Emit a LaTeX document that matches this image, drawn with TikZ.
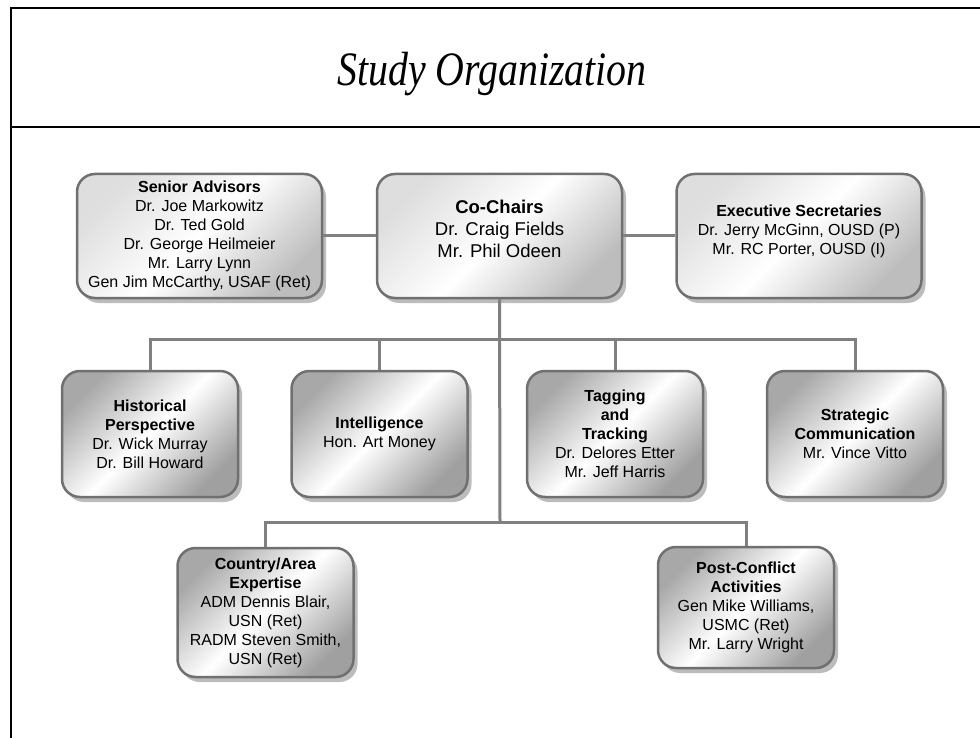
\documentclass[tikz,border=0pt]{standalone}
\usepackage{fontspec}
\usepackage{graphicx}
\setmainfont{Liberation Sans}
\newfontfamily\titlefont{Liberation Serif}
\usetikzlibrary{positioning,shadows}
\definecolor{orgedge}{RGB}{112,112,112}
\definecolor{orglink}{RGB}{128,128,128}
\definecolor{orgshadow}{RGB}{122,122,122}
\definecolor{orglight}{RGB}{222,222,222}
\definecolor{orgdark}{RGB}{168,168,168}

\begin{document}
\begin{tikzpicture}[
        x=1pt, y=-1pt,
        frame/.style={draw=black, line width=2pt},
        link/.style={draw=orglink, line width=3pt},
        orgbox/.style={rectangle, rounded corners=18pt, draw=orgedge, line width=2.5pt,
          align=center, font=\fontsize{16}{19}\selectfont,
          drop shadow={shadow xshift=4pt, shadow yshift=-5pt, fill=orgshadow}},
        leadbox/.style={orgbox, minimum width=245pt, minimum height=124pt,
          top color=orglight, bottom color=orglight!85!black, middle color=white, shading angle=45},
        teambox/.style={orgbox, minimum width=176pt, minimum height=126pt,
          top color=orgdark, bottom color=orgdark!95!black, middle color=white, shading angle=45}
      ]
      \useasboundingbox (0,0) rectangle (980,738);
      % frame and heading
      \draw[frame] (11,738) -- (11,8) -- (980,8);
      \draw[frame] (11,127) -- (980,127);
      \node[anchor=base] (title) at (492,86)
        {\titlefont\itshape\fontsize{48}{56}\selectfont\scalebox{0.83}[1]{Study Organization}};

      % leadership row
      \node[leadbox, font=\fontsize{18.5}{22}\selectfont] (chairs) at (499.5,236)
        {\textbf{Co-Chairs}\\Dr. Craig Fields\\Mr. Phil Odeen\\[-8pt]};
      \node[leadbox] (advisors) at (199.5,236)
        {\textbf{Senior Advisors}\\Dr. Joe Markowitz\\Dr. Ted Gold\\Dr. George Heilmeier\\
         Mr. Larry Lynn\\Gen Jim McCarthy, USAF (Ret)};
      \node[leadbox] (secretaries) at (799,236)
        {\textbf{Executive Secretaries}\\Dr. Jerry McGinn, OUSD (P)\\Mr. RC Porter, OUSD (I)\\[-7pt]};

      % panel rows
      \node[teambox] (history) at (150,434)
        {\textbf{Historical}\\\textbf{Perspective}\\Dr. Wick Murray\\Dr. Bill Howard};
      \node[teambox] (intel) at (379.5,434)
        {\textbf{Intelligence}\\Hon. Art Money};
      \node[teambox] (tagging) at (615,434)
        {\textbf{Tagging}\\\textbf{and}\\\textbf{Tracking}\\Dr. Delores Etter\\Mr. Jeff Harris};
      \node[teambox] (stratcom) at (855,434)
        {\textbf{Strategic}\\\textbf{Communication}\\Mr. Vince Vitto};
      \node[teambox, minimum height=129pt] (country) at (265.5,612.5)
        {\textbf{Country/Area}\\\textbf{Expertise}\\ADM Dennis Blair,\\USN (Ret)\\
         RADM Steven Smith,\\USN (Ret)};
      \node[teambox, minimum height=121pt] (postwar) at (746,607.5)
        {\textbf{Post-Conflict}\\\textbf{Activities}\\Gen Mike Williams,\\USMC (Ret)\\
         Mr. Larry Wright};

      % connectors
      \coordinate (upperbus) at (500,339);
      \coordinate (lowerbus) at (500,522);
      \draw[link] (advisors.east) -- (chairs.west);
      \draw[link] (chairs.east) -- (secretaries.west);
      \draw[link] (chairs.south) -- (lowerbus);
      \draw[link] (history.north) |- (upperbus) -| (stratcom.north);
      \draw[link] (intel.north) -- (intel.north |- upperbus);
      \draw[link] (tagging.north) -- (tagging.north |- upperbus);
      \draw[link] (country.north) |- (lowerbus) -| (postwar.north);
    \end{tikzpicture}
\end{document}
